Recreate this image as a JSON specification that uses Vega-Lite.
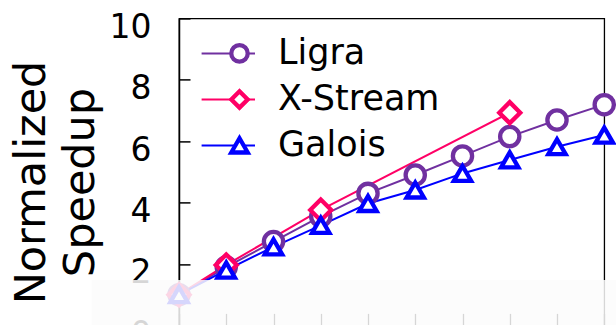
{
  "$schema": "https://vega.github.io/schema/vega-lite/v6.json",
  "width": 425.25,
  "height": 307,
  "autosize": "none",
  "padding": {"left": 179, "top": 18.4, "right": 11.75, "bottom": 0},
  "background": "white",
  "config": {
    "view": {"stroke": "black", "strokeWidth": 1.3},
    "font": "DejaVu Sans"
  },
  "datasets": {
    "speedup": [
      {"x": 1, "y": 1.0, "s": "Ligra"},
      {"x": 2, "y": 1.9, "s": "Ligra"},
      {"x": 3, "y": 2.73, "s": "Ligra"},
      {"x": 4, "y": 3.55, "s": "Ligra"},
      {"x": 5, "y": 4.3, "s": "Ligra"},
      {"x": 6, "y": 4.9, "s": "Ligra"},
      {"x": 7, "y": 5.52, "s": "Ligra"},
      {"x": 8, "y": 6.15, "s": "Ligra"},
      {"x": 9, "y": 6.69, "s": "Ligra"},
      {"x": 10, "y": 7.19, "s": "Ligra"},
      {"x": 1, "y": 1.0, "s": "X-Stream"},
      {"x": 2, "y": 1.97, "s": "X-Stream"},
      {"x": 4, "y": 3.76, "s": "X-Stream"},
      {"x": 8, "y": 6.93, "s": "X-Stream"},
      {"x": 1, "y": 1.0, "s": "Galois"},
      {"x": 2, "y": 1.8, "s": "Galois"},
      {"x": 3, "y": 2.56, "s": "Galois"},
      {"x": 4, "y": 3.26, "s": "Galois"},
      {"x": 5, "y": 3.97, "s": "Galois"},
      {"x": 6, "y": 4.41, "s": "Galois"},
      {"x": 7, "y": 4.95, "s": "Galois"},
      {"x": 8, "y": 5.39, "s": "Galois"},
      {"x": 9, "y": 5.82, "s": "Galois"},
      {"x": 10, "y": 6.2, "s": "Galois"}
    ],
    "fade": [
      {"x0": -0.85, "x1": 10.4, "y0": -0.2, "y1": 1.48}
    ]
  },
  "layer": [
    {
      "data": {"name": "speedup"},
      "mark": {"type": "line", "strokeWidth": 2},
      "encoding": {
        "x": {
          "field": "x", "type": "quantitative",
          "scale": {"domain": [1, 10], "nice": false, "zero": false},
          "axis": {
            "orient": "bottom", "values": [1, 2, 3, 4, 5, 6, 7, 8, 9, 10],
            "tickSize": -12, "tickColor": "black", "tickWidth": 1.3,
            "domainColor": "black", "domainWidth": 1.3,
            "labels": false, "title": null, "grid": false
          }
        },
        "y": {
          "field": "y", "type": "quantitative",
          "scale": {"domain": [0, 10], "nice": false},
          "axis": {
            "values": [0, 2, 4, 6, 8, 10],
            "tickSize": -11, "tickColor": "black", "tickWidth": 1.5,
            "domainColor": "black", "domainWidth": 1.5,
            "grid": false,
            "labelFont": "DejaVu Sans", "labelFontSize": 33, "labelColor": "black",
            "labelPadding": 39, "labelOffset": 9,
            "title": ["Normalized", "Speedup"],
            "titleFont": "DejaVu Sans", "titleFontSize": 43, "titleFontWeight": "normal",
            "titleColor": "black", "titleLineHeight": 50,
            "titleX": -135, "titleY": 163.6, "titleBaseline": "alphabetic",
            "titleAlign": "center", "titleAngle": 270
          }
        },
        "color": {
          "field": "s", "type": "nominal",
          "sort": ["Ligra", "X-Stream", "Galois"],
          "scale": {"range": ["#7030A0", "#FF0066", "#0000FF"]},
          "legend": {
            "orient": "top-left", "offset": 12,
            "title": null, "padding": 0, "rowPadding": 0, "clipHeight": 46,
            "symbolType": "stroke", "symbolSize": 2852, "symbolStrokeWidth": 2,
            "symbolOffset": 9.3,
            "labelExpr": "''", "labelFontSize": 1
          }
        }
      }
    },
    {
      "data": {"name": "speedup"},
      "mark": {"type": "point", "filled": true, "fill": "white", "strokeWidth": 4.3, "opacity": 1},
      "encoding": {
        "x": {"field": "x", "type": "quantitative"},
        "y": {"field": "y", "type": "quantitative"},
        "stroke": {
          "field": "s", "type": "nominal",
          "scale": {"domain": ["Ligra", "X-Stream", "Galois"], "range": ["#7030A0", "#FF0066", "#0000FF"]},
          "legend": {
            "orient": "none", "legendX": 43, "legendY": 12,
            "title": null, "padding": 0, "rowPadding": 0, "clipHeight": 46,
            "symbolSize": 270, "symbolStrokeWidth": 4.3, "symbolFillColor": "white",
            "labelFont": "DejaVu Sans", "labelFontSize": 35, "labelColor": "black",
            "labelOffset": 21, "labelLimit": 400
          }
        },
        "shape": {
          "field": "s", "type": "nominal",
          "scale": {"domain": ["Ligra", "X-Stream", "Galois"], "range": ["circle", "diamond", "triangle-up"]},
          "legend": {
            "orient": "none", "legendX": 43, "legendY": 12,
            "title": null, "padding": 0, "rowPadding": 0, "clipHeight": 46,
            "symbolSize": 270, "symbolStrokeWidth": 4.3, "symbolFillColor": "white",
            "labelFont": "DejaVu Sans", "labelFontSize": 35, "labelColor": "black",
            "labelOffset": 21, "labelLimit": 400
          }
        },
        "size": {
          "field": "s", "type": "nominal",
          "sort": "descending",
          "scale": {"range": [440, 300, 340]},
          "legend": null
        }
      }
    },
    {
      "data": {"name": "fade"},
      "mark": {"type": "rect", "color": "#fbfbfb", "opacity": 0.85, "clip": false},
      "encoding": {
        "x": {"field": "x0", "type": "quantitative"},
        "x2": {"field": "x1"},
        "y": {"field": "y0", "type": "quantitative"},
        "y2": {"field": "y1"}
      }
    }
  ]
}
